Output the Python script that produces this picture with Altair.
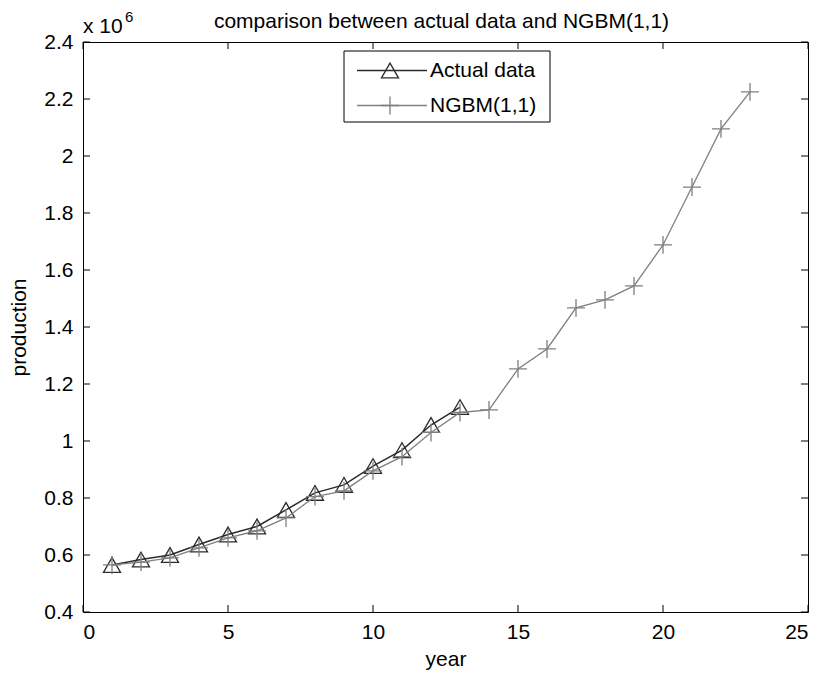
import altair as alt
import pandas as pd

# ---- data (production in units of 10^6) ----
years_actual = list(range(1, 14))
actual = [0.565, 0.584, 0.600, 0.637, 0.672, 0.700, 0.758, 0.818, 0.846,
          0.912, 0.968, 1.056, 1.119]
years_model = list(range(1, 24))
model = [0.565, 0.575, 0.590, 0.625, 0.660, 0.685, 0.730, 0.805, 0.825,
         0.895, 0.945, 1.030, 1.100, 1.109, 1.253, 1.323, 1.467, 1.495,
         1.544, 1.688, 1.891, 2.095, 2.225]
x_ticks = [0, 5, 10, 15, 20, 25]
y_ticks = [0.4, 0.6, 0.8, 1.0, 1.2, 1.4, 1.6, 1.8, 2.0, 2.2, 2.4]
series_names = ["Actual data", "NGBM(1,1)"]
title_text = "comparison between actual data and NGBM(1,1)"

W, H = 725, 570
FONT = "Liberation Sans"
FS = 21
C_ACT = "#2b2b2b"
C_MOD = "#7f7f7f"
TICK = 7
PLUS = "M-1,0L1,0M0,-1L0,1"

df_a = pd.DataFrame({"year": years_actual, "production": actual})
df_m = pd.DataFrame({"year": years_model, "production": model})
df_xt = pd.DataFrame({"year": x_ticks})
df_yt = pd.DataFrame({"production": y_ticks})
one = pd.DataFrame({"k": [0]})

xscale = alt.Scale(domain=[0, 25], nice=False, zero=False)
yscale = alt.Scale(domain=[0.4, 2.4], nice=False, zero=False)

X = alt.X("year:Q", scale=xscale,
          axis=alt.Axis(values=x_ticks, title="year", ticks=False, domain=False,
                        grid=False, labelPadding=9, labelFontSize=FS,
                        labelFont=FONT, titleFont=FONT, titleFontSize=FS,
                        titleFontWeight="normal", labelColor="black",
                        titleColor="black", titleX=W / 2, titleY=47,
                        titleBaseline="middle"))
Y = alt.Y("production:Q", scale=yscale,
          axis=alt.Axis(values=y_ticks, format=".1~f", title="production",
                        ticks=False, domain=False, grid=False, labelPadding=10,
                        labelFontSize=FS, labelFont=FONT, titleFont=FONT,
                        titleFontSize=FS, titleFontWeight="normal",
                        labelColor="black", titleColor="black",
                        titleX=-64, titleY=H / 2, titleBaseline="middle"))

line_a = alt.Chart(df_a).mark_line(color=C_ACT, strokeWidth=1.5).encode(x=X, y=Y)
pts_a = alt.Chart(df_a).mark_point(shape="triangle-up", filled=False, size=290,
                                   color=C_ACT, strokeWidth=1.3, opacity=1).encode(x=X, y=Y)
line_m = alt.Chart(df_m).mark_line(color=C_MOD, strokeWidth=1.3).encode(x=X, y=Y)
pts_m = alt.Chart(df_m).mark_point(shape=PLUS, filled=False, size=320,
                                   color=C_MOD, strokeWidth=1.3, opacity=1).encode(x=X, y=Y)

# inward ticks on all four sides
tick_style = dict(color="black", strokeWidth=1)
xt_bot = alt.Chart(df_xt).mark_rule(**tick_style).encode(x=X, y=alt.value(H), y2=alt.value(H - TICK))
xt_top = alt.Chart(df_xt).mark_rule(**tick_style).encode(x=X, y=alt.value(0), y2=alt.value(TICK))
yt_l = alt.Chart(df_yt).mark_rule(**tick_style).encode(y=Y, x=alt.value(0), x2=alt.value(TICK))
yt_r = alt.Chart(df_yt).mark_rule(**tick_style).encode(y=Y, x=alt.value(W), x2=alt.value(W - TICK))

# title and exponent label
title = alt.Chart(one).mark_text(text=title_text, font=FONT, fontSize=FS, color="black",
                                 align="center", baseline="alphabetic").encode(
    x=alt.value(W / 2 - 4), y=alt.value(-14))
exp_base = alt.Chart(one).mark_text(text="x 10", font=FONT, fontSize=FS, color="black",
                                    align="left", baseline="alphabetic").encode(
    x=alt.value(0), y=alt.value(-9))
exp_sup = alt.Chart(one).mark_text(text="6", font=FONT, fontSize=15, color="black",
                                   align="left", baseline="alphabetic").encode(
    x=alt.value(42), y=alt.value(-20))

# legend (manual, MATLAB style)
leg_box = alt.Chart(one).mark_rect(fill="white", stroke="black", strokeWidth=1).encode(
    x=alt.value(261), x2=alt.value(467), y=alt.value(9), y2=alt.value(80))
legend_layers = [leg_box]
row_y = [28.5, 63.5]
styles = [(C_ACT, "triangle-up", 290, 1.5), (C_MOD, PLUS, 320, 1.3)]
for name, ry, (col, shp, sz, sw) in zip(series_names, row_y, styles):
    legend_layers.append(alt.Chart(one).mark_rule(color=col, strokeWidth=sw).encode(
        x=alt.value(274), x2=alt.value(344), y=alt.value(ry)))
    legend_layers.append(alt.Chart(one).mark_point(shape=shp, filled=False, size=sz, color=col,
                                                   strokeWidth=1.3, opacity=1).encode(
        x=alt.value(307), y=alt.value(ry)))
    legend_layers.append(alt.Chart(one).mark_text(text=name, font=FONT, fontSize=FS, color="black",
                                                  align="left", baseline="middle").encode(
        x=alt.value(347), y=alt.value(ry)))

chart = alt.layer(
    line_a, pts_a, line_m, pts_m, xt_bot, xt_top, yt_l, yt_r,
    title, exp_base, exp_sup, *legend_layers
).properties(
    width=W, height=H,
    autosize=alt.AutoSizeParams(type="none"),
    padding={"left": 75, "top": 34, "right": 1, "bottom": 62},
    background="white",
).configure_view(stroke="black", strokeWidth=1)

chart.save("out.html", embed_options={"renderer": "svg", "actions": False})
